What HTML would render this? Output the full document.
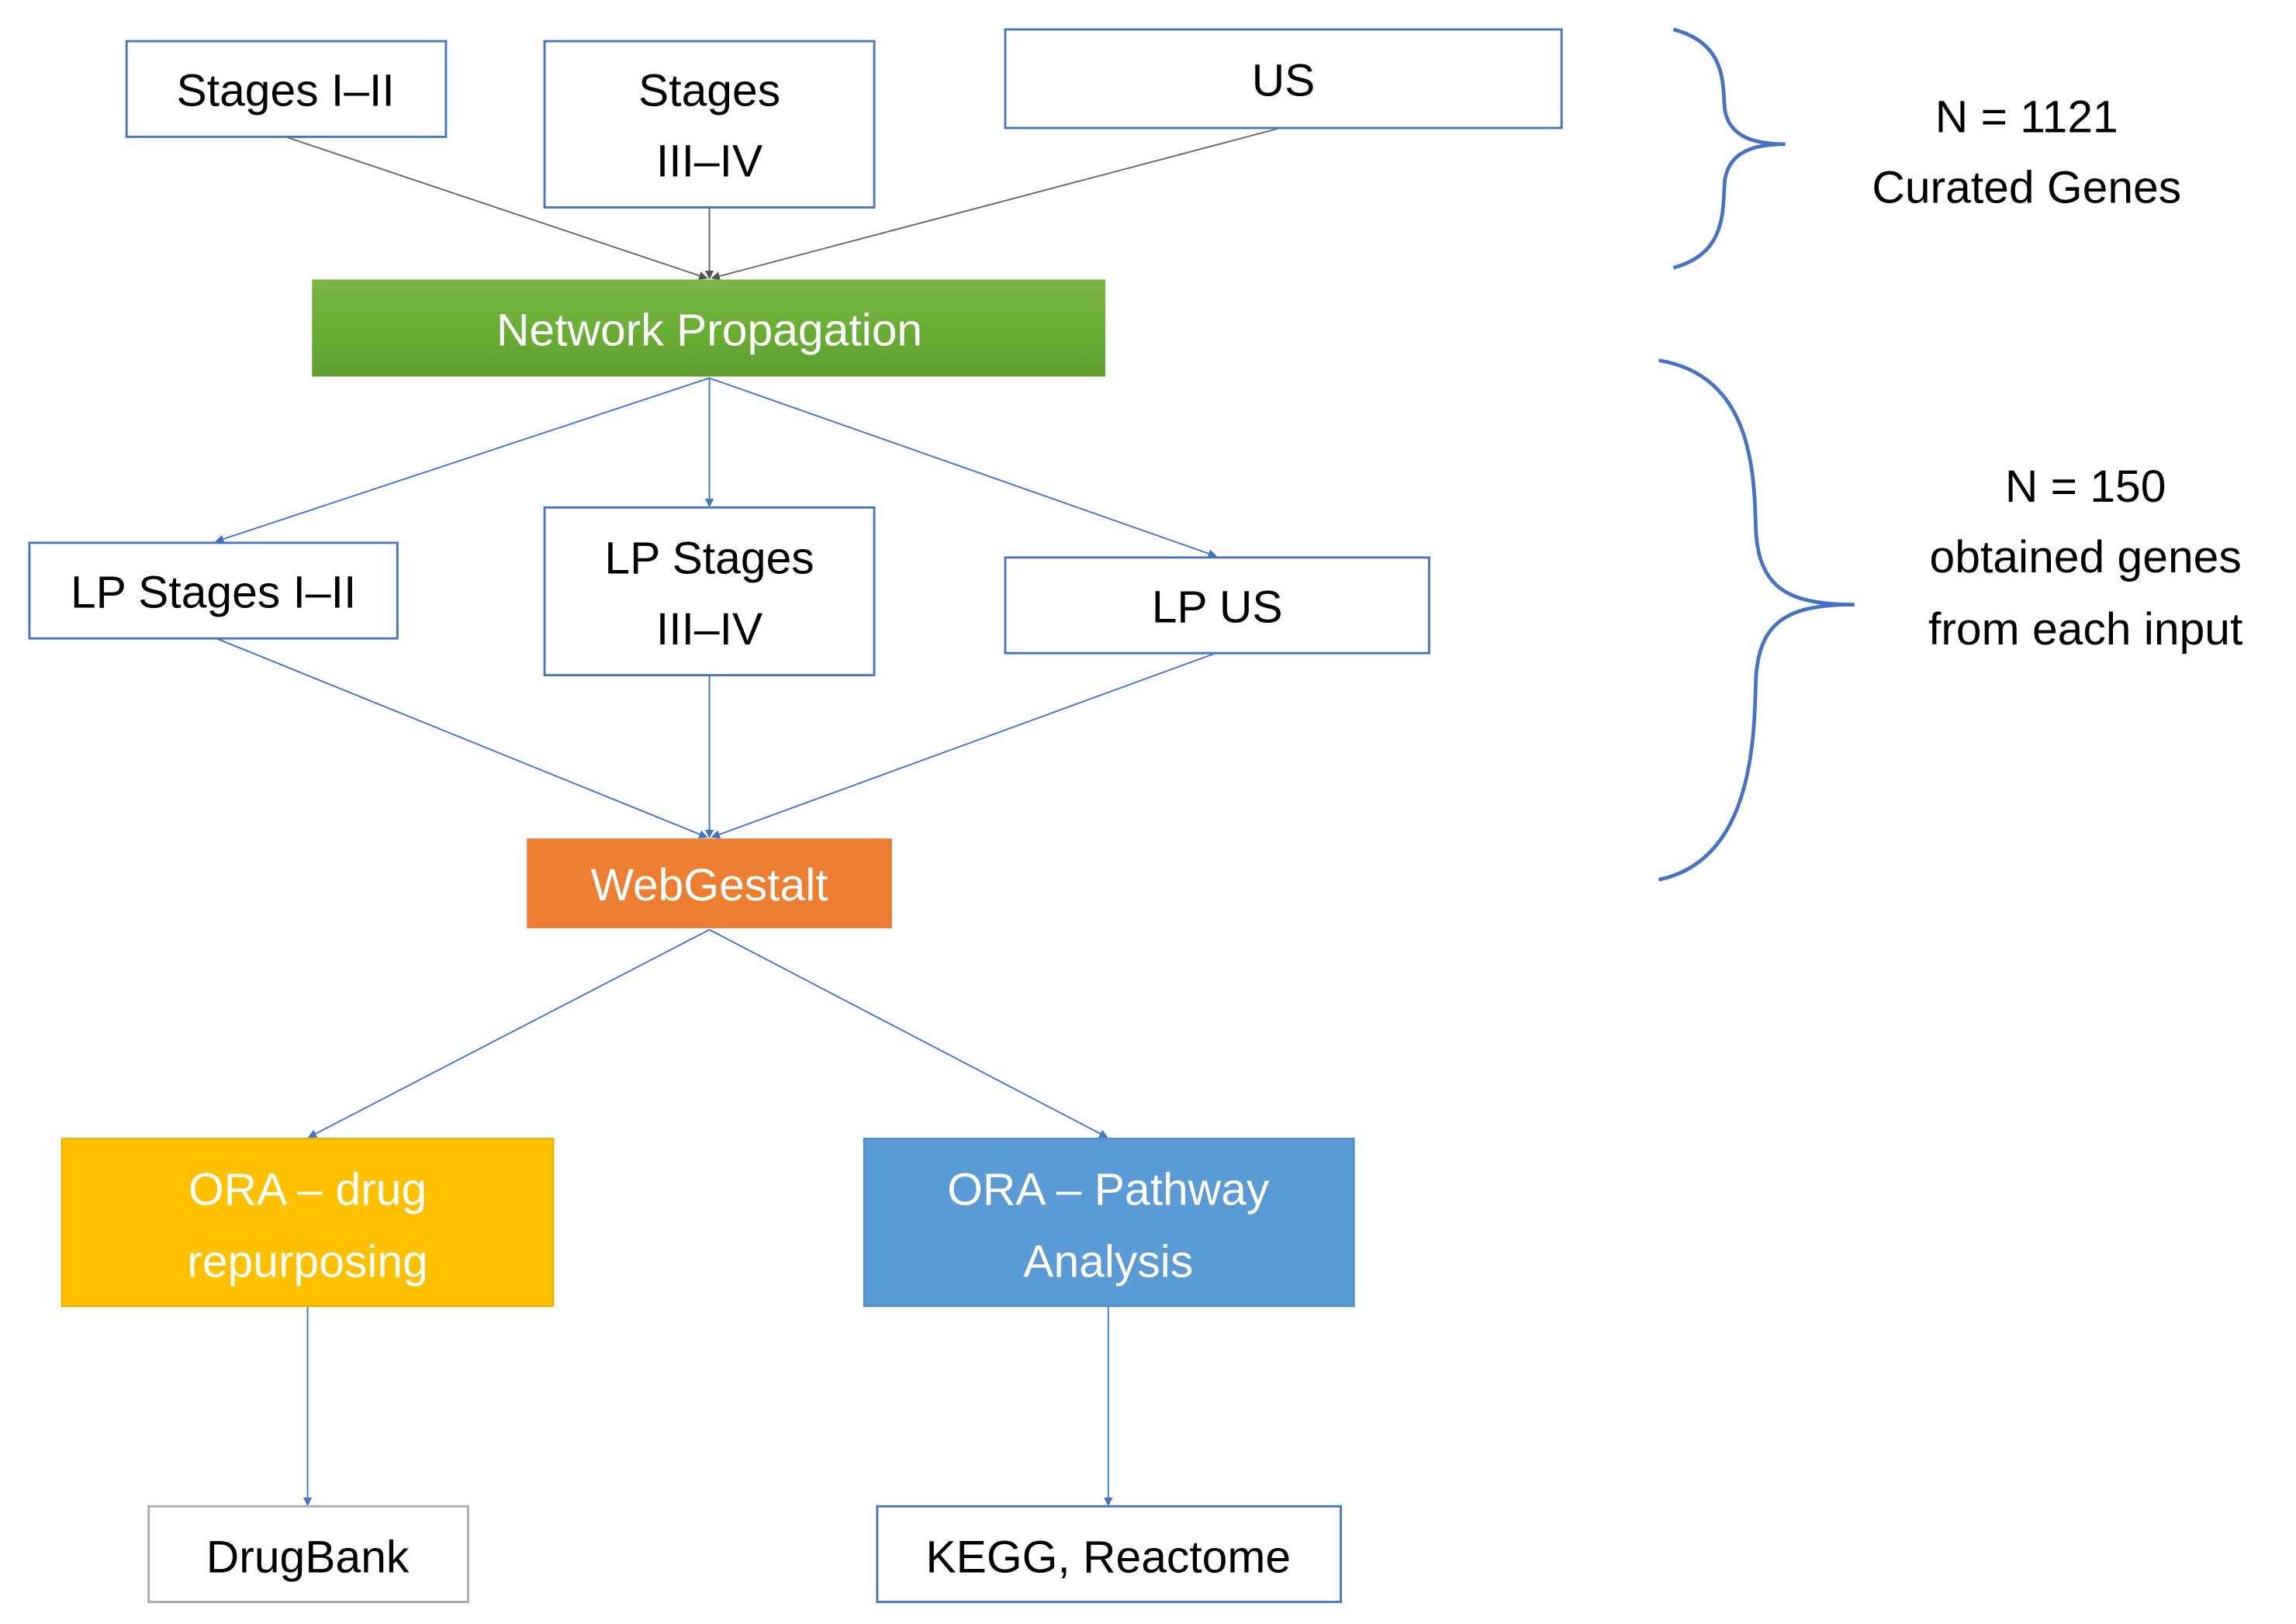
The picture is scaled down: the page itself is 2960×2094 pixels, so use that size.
<!DOCTYPE html>
<html><head><meta charset="utf-8"><style>
html,body{margin:0;padding:0;background:#fff;}
svg{display:block;}
text{font-family:"Liberation Sans",sans-serif;font-size:31px;text-anchor:middle;}
</style></head><body>
<svg width="2960" height="2094" viewBox="0 0 1560 1104" preserveAspectRatio="none" xmlns="http://www.w3.org/2000/svg">
<defs>
<linearGradient id="g" x1="0" y1="0" x2="0" y2="1"><stop offset="0" stop-color="#7ab648"/><stop offset="0.5" stop-color="#6aaf35"/><stop offset="1" stop-color="#5e9e30"/></linearGradient>
<marker id="a" markerWidth="6" markerHeight="6" refX="5" refY="3" orient="auto"><path d="M0,0 L6,3 L0,6 z" fill="#4472c4"/></marker>
<marker id="ag" markerWidth="6" markerHeight="6" refX="5" refY="3" orient="auto"><path d="M0,0 L6,3 L0,6 z" fill="#555"/></marker>
</defs>
<g stroke="#666" stroke-width="1" marker-end="url(#ag)">
<line x1="194" y1="93" x2="480" y2="189"/>
<line x1="482" y1="141" x2="482" y2="189"/>
<line x1="870" y1="87" x2="484" y2="189"/>
</g>
<g stroke="#4472c4" stroke-width="1" marker-end="url(#a)" fill="none">
<line x1="482" y1="257" x2="147" y2="368"/>
<line x1="482" y1="257" x2="482" y2="344"/>
<line x1="482" y1="257" x2="826" y2="378"/>
<line x1="147" y1="434" x2="480" y2="569"/>
<line x1="482" y1="459" x2="482" y2="569"/>
<line x1="826" y1="444" x2="484" y2="569"/>
<line x1="482" y1="632" x2="210" y2="773"/>
<line x1="482" y1="632" x2="752" y2="773"/>
<line x1="209" y1="888" x2="209" y2="1023"/>
<line x1="753" y1="888" x2="753" y2="1023"/>
</g>
<g fill="#fff" stroke="#4472c4" stroke-width="1.5">
<rect x="86" y="28" width="217" height="65"/>
<rect x="370" y="28" width="224" height="113"/>
<rect x="683" y="20" width="378" height="67"/>
<rect x="20" y="369" width="250" height="65"/>
<rect x="370" y="345" width="224" height="114"/>
<rect x="683" y="379" width="288" height="65"/>
<rect x="596" y="1024" width="315" height="65"/>
<rect x="101" y="1024" width="217" height="65" stroke="#aaa"/>
</g>
<rect x="212" y="190" width="539" height="66" fill="url(#g)"/>
<rect x="358" y="570" width="248" height="61" fill="#ed7d31"/>
<rect x="42" y="774" width="334" height="114" fill="#ffc000" stroke="#e8a800"/>
<rect x="587" y="774" width="333" height="114" fill="#5b9bd5" stroke="#4a86c0"/>
<g fill="#000">
<text x="194" y="72">Stages I–II</text>
<text x="482" y="72">Stages</text><text x="482" y="120">III–IV</text>
<text x="872" y="65">US</text>
<text x="145" y="413">LP Stages I–II</text>
<text x="482" y="390">LP Stages</text><text x="482" y="438">III–IV</text>
<text x="827" y="423">LP US</text>
<text x="209" y="1069">DrugBank</text>
<text x="753" y="1069">KEGG, Reactome</text>
<text x="1377" y="90">N = 1121</text>
<text x="1377" y="138">Curated Genes</text>
<text x="1417" y="341">N = 150</text>
<text x="1417" y="389">obtained genes</text>
<text x="1417" y="438">from each input</text>
</g>
<g fill="#fff">
<text x="482" y="235">Network Propagation</text>
<text x="482" y="612">WebGestalt</text>
<text x="209" y="819">ORA – drug</text><text x="209" y="868">repurposing</text>
<text x="753" y="819">ORA – Pathway</text><text x="753" y="868">Analysis</text>
</g>
<g fill="none" stroke="#4472c4" stroke-width="2.5">
<path d="M1137,20 C1175,30 1170,60 1172,75 C1175,92 1190,98 1213,98 C1190,98 1175,104 1172,122 C1170,140 1175,172 1137,182"/>
<path d="M1127,245 C1190,255 1192,320 1193,360 C1195,400 1215,411 1260,411 C1215,411 1195,422 1193,462 C1192,505 1190,585 1127,598"/>
</g>
</svg>
</body></html>
